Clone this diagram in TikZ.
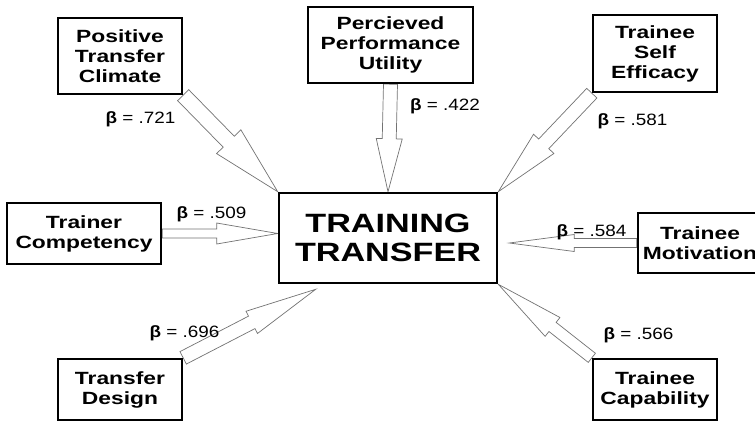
\documentclass[tikz,border=0pt]{standalone}
\usepackage{fontspec}
\setmainfont{Liberation Sans}
\newfontfamily\boxfont[FakeStretch=1.29]{Liberation Sans}
\newfontfamily\betafont[FakeStretch=1.15]{Liberation Sans}
\usetikzlibrary{calc,backgrounds}
% one pixel of the layout
\def\pxu{0.03cm}
% hollow block arrow: from, to, half shaft, half head, head length (px)
\newcommand{\fatarrow}[5]{%
  \coordinate (hb) at ($(#2)!#5*\pxu!(#1)$);
  \draw[hollow] ($(#1)!#3*\pxu!90:(#2)$) -- ($(hb)!#3*\pxu!-90:(#1)$)
    -- ($(hb)!#4*\pxu!-90:(#1)$) -- (#2) -- ($(hb)!#4*\pxu!90:(#1)$)
    -- ($(hb)!#3*\pxu!90:(#1)$) -- ($(#1)!#3*\pxu!-90:(#2)$) -- cycle;
}
\begin{document}
\begin{tikzpicture}[x=0.03cm, y=-0.03cm, line join=miter,
  factor/.style={draw, line width=2pt, fill=white, inner sep=0pt, align=center,
    font=\boxfont\bfseries\fontsize{15.1}{17.1}\selectfont,
    minimum width=3.72cm, minimum height=1.83cm},
  outcome/.style={factor, line width=2.2pt, minimum width=6.54cm, minimum height=2.7cm,
    font=\boxfont\bfseries\fontsize{22.6}{24.8}\selectfont},
  beta/.style={anchor=base, inner sep=0pt, font=\betafont\fontsize{14}{16}\selectfont},
  hollow/.style={draw=black!55, line width=0.6pt, fill=white}]
  \useasboundingbox (0,0) rectangle (755,421);
  % boxes
  \node[outcome] (tt) at (388,238) {TRAINING\\TRANSFER};
  \node[factor, minimum height=2.28cm] (ptc) at (120,56) {Positive\\Transfer\\Climate};
  \node[factor, minimum width=4.95cm, minimum height=2.28cm] (ppu) at (390.5,45) {Percieved\\Performance\\Utility};
  \node[factor, minimum height=2.31cm] (tse) at (655,53.5) {Trainee\\Self\\Efficacy};
  \node[factor, minimum width=4.62cm] (tc) at (84,233.5) {Trainer\\Competency};
  \node[factor] (td) at (120,389.5) {Transfer\\Design};
  \node[factor, minimum height=1.8cm] (tm) at (700,243) {Trainee\\Motivation};
  \node[factor] (tcap) at (655,389.5) {Trainee\\Capability};
  % free tips
  \coordinate (tctip) at (tt.west |- tc.east);
  \coordinate (tmtip) at ($(tt.east |- tm.west)+(11,0)$);
  \coordinate (tdtip) at ($(tt.south west)+(38,5)$);
  % arrows
  \begin{scope}[on background layer]
    \fatarrow{ptc.south east}{tt.north west}{7.8}{17}{70}
    \fatarrow{ppu.south}{tt.north}{7}{13}{53}
    \fatarrow{tse.south west}{tt.north east}{7}{14}{66}
    \fatarrow{tc.east}{tctip}{4.5}{10.5}{61}
    \fatarrow{td.north east}{tdtip}{7}{12.5}{72}
    \fatarrow{tm.west}{tmtip}{4.5}{8.5}{65}
    \fatarrow{tcap.north west}{tt.south east}{5.8}{12}{69}
  \end{scope}
  % coefficients
  \path
  (140.5,123) node[beta] (b1) {\textbf{β} = .721}
  (445,110) node[beta] (b2) {\textbf{β} = .422}
  (632.5,125) node[beta] (b3) {\textbf{β} = .581}
  (211.5,218) node[beta] (b4) {\textbf{β} = .509}
  (184.5,337) node[beta] (b5) {\textbf{β} = .696}
  (591.5,236) node[beta] (b6) {\textbf{β} = .584}
  (638.5,339) node[beta] (b7) {\textbf{β} = .566}
  ;
\end{tikzpicture}
\end{document}
